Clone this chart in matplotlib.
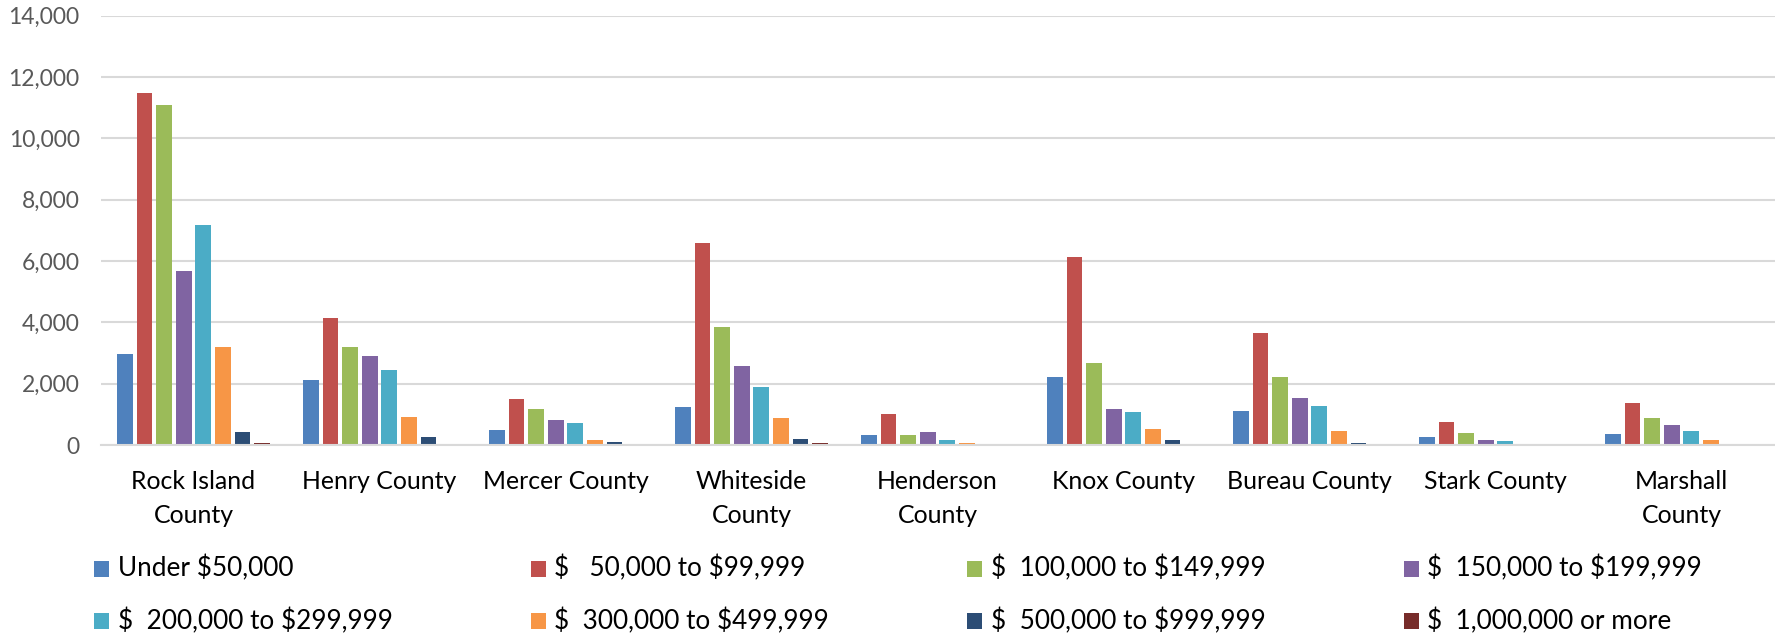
import matplotlib
matplotlib.use("Agg")
import matplotlib.pyplot as plt
from matplotlib.patches import Rectangle
import numpy as np

plt.rcParams["text.parse_math"] = False

# Housing units by value band, per county
counties = ["Rock Island County", "Henry County", "Mercer County", "Whiteside County",
            "Henderson County", "Knox County", "Bureau County", "Stark County",
            "Marshall County"]
county_labels = ["Rock Island\nCounty", "Henry County", "Mercer County", "Whiteside\nCounty",
                 "Henderson\nCounty", "Knox County", "Bureau County", "Stark County",
                 "Marshall\nCounty"]

value_bands = ["Under $50,000", "$   50,000 to $99,999", "$  100,000 to $149,999",
               "$  150,000 to $199,999", "$  200,000 to $299,999", "$  300,000 to $499,999",
               "$  500,000 to $999,999", "$  1,000,000 or more"]
band_colors = ["#4F81BD", "#C0504D", "#9BBB59", "#8064A2",
               "#4BACC6", "#F79646", "#2C4D75", "#772C2A"]

under_50k = [2970, 2110, 480, 1230, 330, 2210, 1110, 260, 360]
from_50k = [11490, 4130, 1500, 6580, 1000, 6130, 3650, 760, 1380]
from_100k = [11080, 3210, 1160, 3850, 340, 2680, 2230, 380, 880]
from_150k = [5660, 2910, 810, 2560, 410, 1160, 1530, 160, 650]
from_200k = [7190, 2460, 720, 1900, 150, 1080, 1260, 130, 470]
from_300k = [3190, 900, 170, 880, 65, 510, 450, 25, 150]
from_500k = [410, 250, 85, 190, 10, 150, 75, 10, 20]
over_1m = [55, 10, 10, 65, 5, 20, 15, 0, 10]

series = [under_50k, from_50k, from_100k, from_150k,
          from_200k, from_300k, from_500k, over_1m]

y_ticks = [0, 2000, 4000, 6000, 8000, 10000, 12000, 14000]

FONT = "Lato"
W, H = 1775, 637

fig = plt.figure(figsize=(W / 100, H / 100), dpi=100)
fig.patch.set_facecolor("white")

ax_left, ax_right = 100.5, 1774.5
ax_top, ax_bottom = 15.7, 445.0
ax = fig.add_axes([ax_left / W, 1 - ax_bottom / H,
                   (ax_right - ax_left) / W, (ax_bottom - ax_top) / H])

x = np.arange(len(counties))
slot = 0.1054
for i, (vals, color) in enumerate(zip(series, band_colors)):
    ax.bar(x + (i - 3.5) * slot, vals, width=slot * 0.8, color=color,
           edgecolor="none", zorder=3)

ax.set_xlim(-0.5, len(counties) - 0.5)
ax.set_ylim(0, 14000)
ax.set_yticks(y_ticks)
ax.set_yticklabels([f"{v:,}" for v in y_ticks], family=FONT, fontsize=16.5,
                   color="#595959")
ax.set_xticks(x)
ax.set_xticklabels(county_labels, family=FONT, fontsize=17.9, color="#000000",
                   linespacing=1.6, va="top")
ax.tick_params(axis="both", length=0)
ax.tick_params(axis="y", pad=15)
ax.tick_params(axis="x", pad=18)

ax.yaxis.grid(True, color="#D9D9D9", linewidth=1.5)
ax.set_axisbelow(True)
for side in ["left", "right", "top"]:
    ax.spines[side].set_visible(False)
ax.spines["bottom"].set_color("#D9D9D9")
ax.spines["bottom"].set_linewidth(1.5)
ax.spines["bottom"].set_zorder(4)

# Legend laid out in a fixed four-column grid below the plot
col0, col_step = 94.4, 436.5
row_base = [576.7, 629.3]
box = 15
for i, (label, color) in enumerate(zip(value_bands, band_colors)):
    r, c = divmod(i, 4)
    lx = col0 + c * col_step
    by = row_base[r]
    fig.patches.append(Rectangle((lx / W, 1 - by / H), box / W, (box + 1) / H,
                                 transform=fig.transFigure, facecolor=color,
                                 edgecolor="none"))
    fig.text((lx + 23.5) / W, 1 - by / H, label, family=FONT, fontsize=18.8,
             color="#000000", ha="left", va="baseline")

fig.savefig("out.png", dpi=100, facecolor="white")
